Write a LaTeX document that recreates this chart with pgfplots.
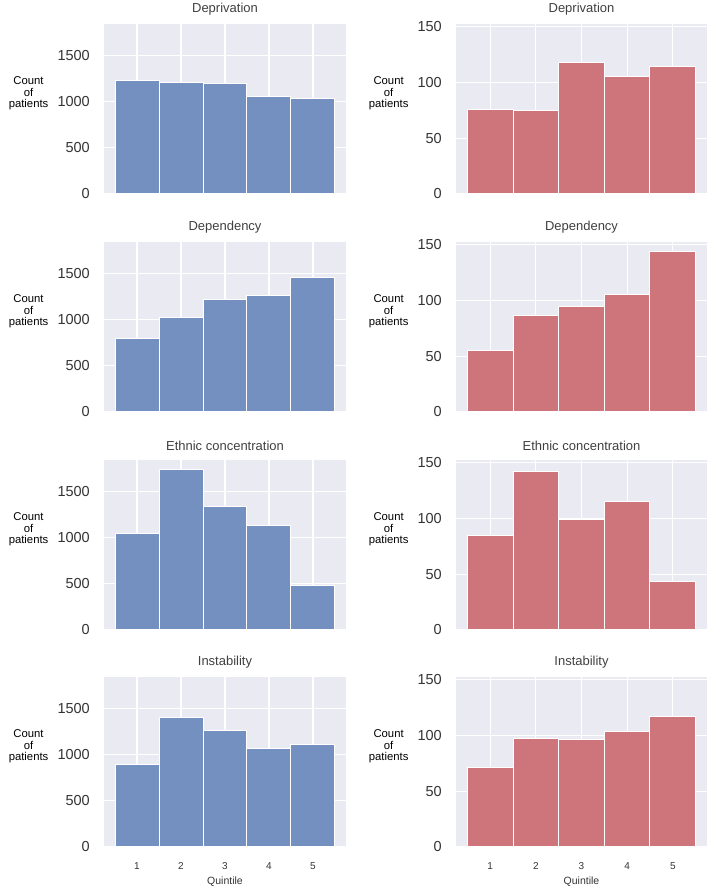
\documentclass[border=0pt]{standalone}
\usepackage{pgfplots}
\pgfplotsset{compat=1.18}
\usepackage{fontspec}
\setmainfont{Liberation Sans}
\definecolor{bg}{HTML}{EAEAF2}
\definecolor{bluebar}{HTML}{7390C0}
\definecolor{redbar}{HTML}{CD757A}
\definecolor{txt}{HTML}{333333}
\definecolor{ttl}{HTML}{404040}
\pgfplotsset{
  base/.style={
    scale only axis, height=170pt,
    xmin=0.25, xmax=5.75, ymin=0,
    xtick={1,2,3,4,5},
    axis background/.style={fill=bg},
    grid=major, major grid style={white, line width=1.1pt},
    axis line style={draw=none},
    major tick length=0pt, tick style={draw=none},
    /pgf/number format/assume math mode=true,
    /pgf/number format/1000 sep={},
    yticklabel style={font=\fontsize{14.5}{16}\selectfont, text=txt, inner sep=0pt, xshift=-14pt},
    xticklabel style={font=\fontsize{10}{11}\selectfont, text=txt, inner sep=0pt, yshift=-15pt},
    title style={font=\fontsize{13}{15}\selectfont, text=ttl, at={(0.5,1)}, anchor=south, yshift=3pt, inner sep=0pt},
    ylabel={Count\\of\\patients},
    ylabel style={rotate=-90, align=center, font=\fontsize{11.3}{11.5}\selectfont, anchor=east, at={(ticklabel cs:0.59)}, xshift=-9pt, inner sep=0pt},
    xlabel style={font=\fontsize{10.5}{12}\selectfont, text=txt, at={(0.5,0)}, anchor=north, yshift=-30pt, inner sep=0pt},
  },
  leftax/.style={base, width=242pt, ymax=1845, ytick={0,500,1000,1500}},
  rightax/.style={base, width=251pt, ymax=152.5, ytick={0,50,100,150}},
  notx/.style={xticklabels={}},
  bb/.style={ybar, bar width=1, bar shift=0pt, fill=bluebar, draw=white, line width=1pt},
  rb/.style={ybar, bar width=1, bar shift=0pt, fill=redbar, draw=white, line width=1pt},
}
\begin{document}
\begin{tikzpicture}
% Row 1
\begin{axis}[leftax, notx, at={(104pt,696pt)}, anchor=south west, title={Deprivation}]
\addplot[bb] coordinates {(1,1235) (2,1213) (3,1198) (4,1057) (5,1035)};
\end{axis}
\begin{axis}[rightax, notx, at={(456pt,696pt)}, anchor=south west, title={Deprivation}]
\addplot[rb] coordinates {(1,76) (2,75) (3,118) (4,105.5) (5,114)};
\end{axis}
% Row 2
\begin{axis}[leftax, notx, at={(104pt,478pt)}, anchor=south west, title={Dependency}]
\addplot[bb] coordinates {(1,795) (2,1028) (3,1224) (4,1260) (5,1463)};
\end{axis}
\begin{axis}[rightax, notx, at={(456pt,478pt)}, anchor=south west, title={Dependency}]
\addplot[rb] coordinates {(1,55.5) (2,87) (3,94.5) (4,105) (5,144)};
\end{axis}
% Row 3
\begin{axis}[leftax, notx, at={(104pt,260pt)}, anchor=south west, title={Ethnic concentration}]
\addplot[bb] coordinates {(1,1050) (2,1737) (3,1335) (4,1137) (5,478)};
\end{axis}
\begin{axis}[rightax, notx, at={(456pt,260pt)}, anchor=south west, title={Ethnic concentration}]
\addplot[rb] coordinates {(1,85) (2,142.5) (3,99.5) (4,115.5) (5,43.5)};
\end{axis}
% Row 4
\begin{axis}[leftax, at={(104pt,43pt)}, anchor=south west, title={Instability}, xlabel={Quintile}]
\addplot[bb] coordinates {(1,891) (2,1409) (3,1264) (4,1065) (5,1112)};
\end{axis}
\begin{axis}[rightax, at={(456pt,43pt)}, anchor=south west, title={Instability}, xlabel={Quintile}]
\addplot[rb] coordinates {(1,71) (2,97) (3,96) (4,103.5) (5,117)};
\end{axis}
\pgfresetboundingbox
\path[use as bounding box] (0,0) rectangle (709pt,890pt);
\end{tikzpicture}
\end{document}
